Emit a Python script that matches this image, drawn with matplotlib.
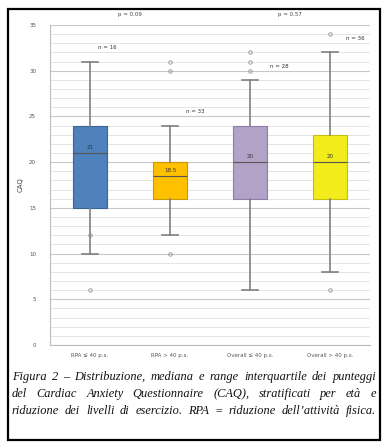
import numpy as np
import matplotlib.pyplot as plt
from matplotlib.patches import Rectangle

# CAQ box plot
groups = ["RPA \u2264 40 p.s.", "RPA > 40 p.s.", "Overall \u2264 40 p.s.", "Overall > 40 p.s."]
q1 = [15, 16, 16, 16]
med = [21, 18.5, 20, 20]
q3 = [24, 20, 24, 23]
whislo = [10, 12, 6, 8]
whishi = [31, 24, 29, 32]
fliers = [[12, 6], [31, 30, 10], [30, 31, 32], [34, 6]]
med_labels = ["21", "18.5", "20", "20"]
n_labels = ["n = 16", "n = 33", "n = 28", "n = 36"]
p_labels = ["p = 0.09", "p = 0.57"]
colors = ["#4f81bd", "#ffc000", "#b3a2c7", "#f2ec1c"]
edges = ["#3a6495", "#c99a00", "#8e7cab", "#c5bd10"]

caption = ["Figura 2 \u2013 Distribuzione, mediana e range interquartile dei punteggi",
           "del Cardiac Anxiety Questionnaire (CAQ), stratificati per et\u00e0 e",
           "riduzione dei livelli di esercizio. RPA = riduzione dell\u2019attivit\u00e0 fisica."]

W, H = 382, 442
fig = plt.figure(figsize=(W / 100, H / 100), dpi=100)
fig.patch.set_facecolor("white")
ax = fig.add_axes([50 / W, 1 - 345 / H, 320 / W, 320 / H])

stats = []
for i in range(len(groups)):
    stats.append(dict(q1=q1[i], med=med[i], q3=q3[i], whislo=whislo[i],
                      whishi=whishi[i], fliers=fliers[i], label=groups[i]))
bp = ax.bxp(stats, positions=range(1, 5), widths=0.42, patch_artist=True,
            showfliers=True,
            whiskerprops=dict(color="#808080", lw=1.2),
            capprops=dict(color="#808080", lw=1.2),
            medianprops=dict(color="#555555", lw=0.8),
            flierprops=dict(marker="o", markersize=2.5, markerfacecolor="none",
                            markeredgecolor="#909090", markeredgewidth=0.6))
for patch, c, e in zip(bp["boxes"], colors, edges):
    patch.set_facecolor(c)
    patch.set_edgecolor(e)
    patch.set_linewidth(0.8)
for cap in bp["caps"]:
    x = cap.get_xdata()
    m = (x[0] + x[1]) / 2
    cap.set_xdata([m - 0.1, m + 0.1])

for i in range(len(groups)):
    ax.text(i + 1, med[i] + 0.3, med_labels[i], ha="center", va="bottom",
            fontsize=4, color="#333333")

n_pos = [(1.1, 32.5), (2.2, 25.5), (3.25, 30.5), (4.2, 33.5)]
for (x, y), t in zip(n_pos, n_labels):
    ax.text(x, y, t, fontsize=4, color="#333333", ha="left", va="center")

ax.text(1.5, 36.1, p_labels[0], fontsize=4, color="#444444", ha="center", va="center")
ax.text(3.5, 36.1, p_labels[1], fontsize=4, color="#444444", ha="center", va="center")

ax.set_xlim(0.5, 4.5)
ax.set_ylim(0, 35)
ax.set_yticks(np.arange(0, 36, 5))
ax.set_yticks(np.arange(0, 36, 1), minor=True)
ax.grid(True, which="minor", axis="y", color="#e0e0e0", lw=0.6)
ax.grid(True, which="major", axis="y", color="#c8c8c8", lw=0.8)
ax.set_axisbelow(True)
ax.tick_params(axis="both", which="both", length=0, labelsize=4, colors="#555555")
ax.tick_params(axis="y", pad=10)
ax.tick_params(axis="x", pad=6)
ax.set_xticks(range(1, 5))
ax.set_xticklabels(groups)
ax.set_ylabel("CAQ", fontsize=5, color="#444444", labelpad=4)
for s in ["top", "right"]:
    ax.spines[s].set_visible(False)
for s in ["left", "bottom"]:
    ax.spines[s].set_color("#bbbbbb")
    ax.spines[s].set_linewidth(0.8)

# outer frame
fig.patches.append(Rectangle((8 / W, 2 / H), 372 / W, 431 / H, transform=fig.transFigure,
                             fill=False, edgecolor="black", lw=1.6))

# justified italic caption
renderer = fig.canvas.get_renderer()
x0, x1 = 12, 376
ys = [377, 394, 411]
for line, yp in zip(caption, ys):
    words = line.split(" ")
    texts = [fig.text(0, 1 - yp / H, w, fontsize=8.9, family="Liberation Serif",
                      style="italic", va="center", ha="left", color="#111111")
             for w in words]
    widths = [t.get_window_extent(renderer).width for t in texts]
    gap = max((x1 - x0 - sum(widths)) / (len(words) - 1), 1.5)
    x = x0
    for t, w in zip(texts, widths):
        t.set_x(x / W)
        x += w + gap

fig.savefig("out.png", dpi=100)
